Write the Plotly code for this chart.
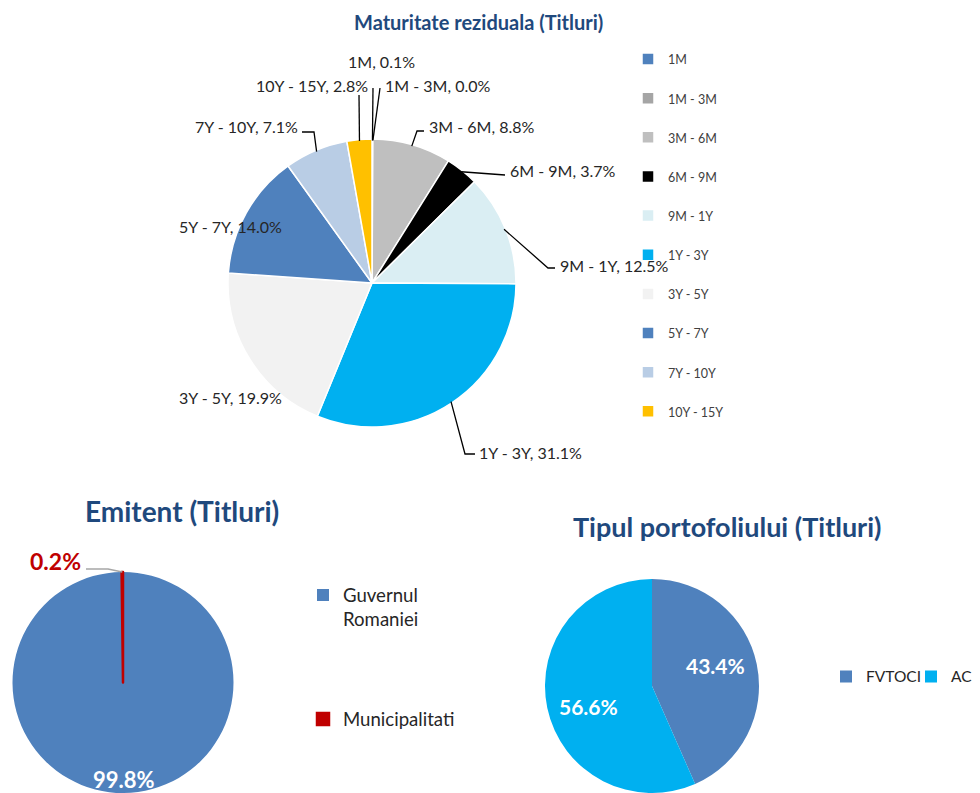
import math
import plotly.graph_objects as go

W, H = 980, 793

# ---------------- data ----------------
mat_labels = ["1M", "1M - 3M", "3M - 6M", "6M - 9M", "9M - 1Y", "1Y - 3Y",
              "3Y - 5Y", "5Y - 7Y", "7Y - 10Y", "10Y - 15Y"]
mat_values = [0.1, 0.0, 8.8, 3.7, 12.5, 31.1, 19.9, 14.0, 7.1, 2.8]
mat_colors = ["#4F81BD", "#A5A5A5", "#BFBFBF", "#000000", "#DAEEF3", "#00B0F0",
              "#F2F2F2", "#4F81BD", "#B9CDE5", "#FFC000"]

em_labels = ["Guvernul Romaniei", "Municipalitati"]
em_values = [99.8, 0.2]
em_colors = ["#4F81BD", "#C00000"]

pt_labels = ["FVTOCI", "AC"]
pt_values = [43.4, 56.6]
pt_colors = ["#4F81BD", "#00B0F0"]

titles = ["Maturitate reziduala (Titluri)", "Emitent (Titluri)", "Tipul portofoliului (Titluri)"]

# ---------------- layout helpers (pixels -> paper) ----------------
FONT = "Lato, 'Open Sans', sans-serif"
TITLE_COLOR = "#1F497D"


def px(x):
    return x / W


def py(y):
    return 1 - y / H


def dom(cx, cy, r):
    return dict(x=[px(cx - r), px(cx + r)], y=[max(0, py(cy + r)), py(cy - r)])


def mid_angles(values):
    tot = sum(values)
    out, cum = [], 0.0
    for v in values:
        out.append((cum + v / 2) / tot * 360.0)
        cum += v
    return out


def on_circle(c, r, ang, f=1.0):
    a = math.radians(ang)
    return c[0] + f * r * math.sin(a), c[1] - f * r * math.cos(a)


MAT_C, MAT_R = (372, 283), 144
EM_C, EM_R = (123, 682.5), 110.5
PT_C, PT_R = (652, 686), 107

fig = go.Figure()

# ---------------- top pie ----------------
mat_legend_labels = [f"<span style='font-size:12.5px'>{l}</span><br> " for l in mat_labels]
fig.add_trace(go.Pie(
    labels=mat_legend_labels, values=mat_values, sort=False, direction="clockwise",
    rotation=0, textinfo="none", hoverinfo="skip",
    marker=dict(colors=mat_colors, line=dict(color="white", width=1.5)),
    domain=dom(*MAT_C, MAT_R), legend="legend",
))

# ---------------- emitent pie ----------------
em_legend_labels = [em_labels[0].replace(" ", "<br>", 1) + "<br> <br> <br> ", em_labels[1]]
fig.add_trace(go.Pie(
    labels=em_legend_labels, values=em_values, sort=False, direction="clockwise",
    rotation=0, textinfo="none", hoverinfo="skip",
    marker=dict(colors=em_colors, line=dict(color=em_colors, width=[0, 2.5])),
    domain=dom(*EM_C, EM_R), legend="legend2",
))

# ---------------- portofoliu pie ----------------
fig.add_trace(go.Pie(
    labels=pt_labels, values=pt_values, sort=False, direction="clockwise",
    rotation=0, textinfo="none", hoverinfo="skip",
    marker=dict(colors=pt_colors, line=dict(color="white", width=0)),
    domain=dom(*PT_C, PT_R), legend="legend3",
))

annotations = []
shapes = []

# titles
annotations.append(dict(x=px(478), y=py(22), xanchor="center", yanchor="middle",
                        text=f"<b>{titles[0]}</b>", showarrow=False,
                        font=dict(family=FONT, size=20, color=TITLE_COLOR)))
annotations.append(dict(x=px(182), y=py(511), xanchor="center", yanchor="middle",
                        text=f"<b>{titles[1]}</b>", showarrow=False,
                        font=dict(family=FONT, size=28, color=TITLE_COLOR)))
annotations.append(dict(x=px(727), y=py(526), xanchor="center", yanchor="middle",
                        text=f"<b>{titles[2]}</b>", showarrow=False,
                        font=dict(family=FONT, size=27, color=TITLE_COLOR)))

# top pie labels (text position, anchor)
mat_label_pos = {
    "1M": (381, 62, "center"),
    "1M - 3M": (383, 86, "left"),
    "3M - 6M": (427, 127, "left"),
    "6M - 9M": (508, 171, "left"),
    "9M - 1Y": (558, 265, "left"),
    "1Y - 3Y": (477, 452, "left"),
    "3Y - 5Y": (230, 397, "center"),
    "5Y - 7Y": (230, 226, "center"),
    "7Y - 10Y": (300, 127, "right"),
    "10Y - 15Y": (370, 86, "right"),
}
# leader line bends (after the slice edge point)
mat_leaders = {
    "1M": [(373, 88)],
    "1M - 3M": [(380, 88)],
    "10Y - 15Y": [(359, 95)],
    "3M - 6M": [(417, 131), (424, 131)],
    "6M - 9M": [(505, 175)],
    "9M - 1Y": [(548, 268), (555, 268)],
    "1Y - 3Y": [(465, 454), (475, 454)],
    "7Y - 10Y": [(314, 132), (302, 132)],
}
mat_mid = mid_angles(mat_values)
for lab, val, ang in zip(mat_labels, mat_values, mat_mid):
    x, y, anc = mat_label_pos[lab]
    annotations.append(dict(x=px(x), y=py(y), xanchor=anc, yanchor="middle",
                            text=f"{lab}, {val:.1f}%", showarrow=False,
                            font=dict(family=FONT, size=16, color="#262626")))
    if lab in mat_leaders:
        pts = [on_circle(MAT_C, MAT_R, ang, 0.99)] + mat_leaders[lab]
        path = "M " + " L ".join(f"{px(a):.5f},{py(b):.5f}" for a, b in pts)
        shapes.append(dict(type="path", xref="paper", yref="paper", path=path,
                           line=dict(color="#000000", width=1.3)))

# emitent labels
em_mid = mid_angles(em_values)
gx, gy = on_circle(EM_C, EM_R, em_mid[0], 0.88)
annotations.append(dict(x=px(gx), y=py(gy), xanchor="center", yanchor="middle",
                        text=f"<b>{em_values[0]:.1f}%</b>", showarrow=False,
                        font=dict(family=FONT, size=22, color="white")))
annotations.append(dict(x=px(83), y=py(561), xanchor="right", yanchor="middle",
                        text=f"<b>{em_values[1]:.1f}%</b>",
                        showarrow=False, font=dict(family=FONT, size=23, color="#C00000")))
ex, ey = on_circle(EM_C, EM_R, em_mid[1], 1.0)
shapes.append(dict(type="path", xref="paper", yref="paper",
                   path=f"M {px(86):.5f},{py(569):.5f} L {px(108):.5f},{py(569):.5f} L {px(ex):.5f},{py(ey):.5f}",
                   line=dict(color="#A6A6A6", width=1.5)))

# portofoliu labels
pt_mid = mid_angles(pt_values)
for val, ang in zip(pt_values, pt_mid):
    x, y = on_circle(PT_C, PT_R, ang - 6, 0.62)
    annotations.append(dict(x=px(x), y=py(y), xanchor="center", yanchor="middle",
                            text=f"<b>{val:.1f}%</b>", showarrow=False,
                            font=dict(family=FONT, size=21, color="white")))

fig.update_layout(
    width=W, height=H, margin=dict(l=0, r=0, t=0, b=0, autoexpand=False),
    paper_bgcolor="white", plot_bgcolor="white",
    font=dict(family=FONT, color="#262626"),
    annotations=annotations, shapes=shapes,
    legend=dict(x=px(628), y=py(43.5), xref="container", yref="container",
                xanchor="left", yanchor="top", valign="top", maxheight=760,
                font=dict(family=FONT, size=13.9, color="#404040"), bgcolor="rgba(0,0,0,0)"),
    legend2=dict(x=px(303), y=py(576.4), xref="container", yref="container",
                 xanchor="left", yanchor="top", valign="top", maxheight=400,
                 font=dict(family=FONT, size=18.6, color="#262626"), bgcolor="rgba(0,0,0,0)"),
    legend3=dict(x=px(826), y=py(659.8), xref="container", yref="container",
                 xanchor="left", yanchor="top", orientation="h",
                 entrywidth=40, font=dict(family=FONT, size=15.5, color="#262626"),
                 bgcolor="rgba(0,0,0,0)"),
)

fig.write_html("out.html", config={"displayModeBar": False},
               post_script="document.body.style.margin='0';document.body.style.overflow='hidden';")
